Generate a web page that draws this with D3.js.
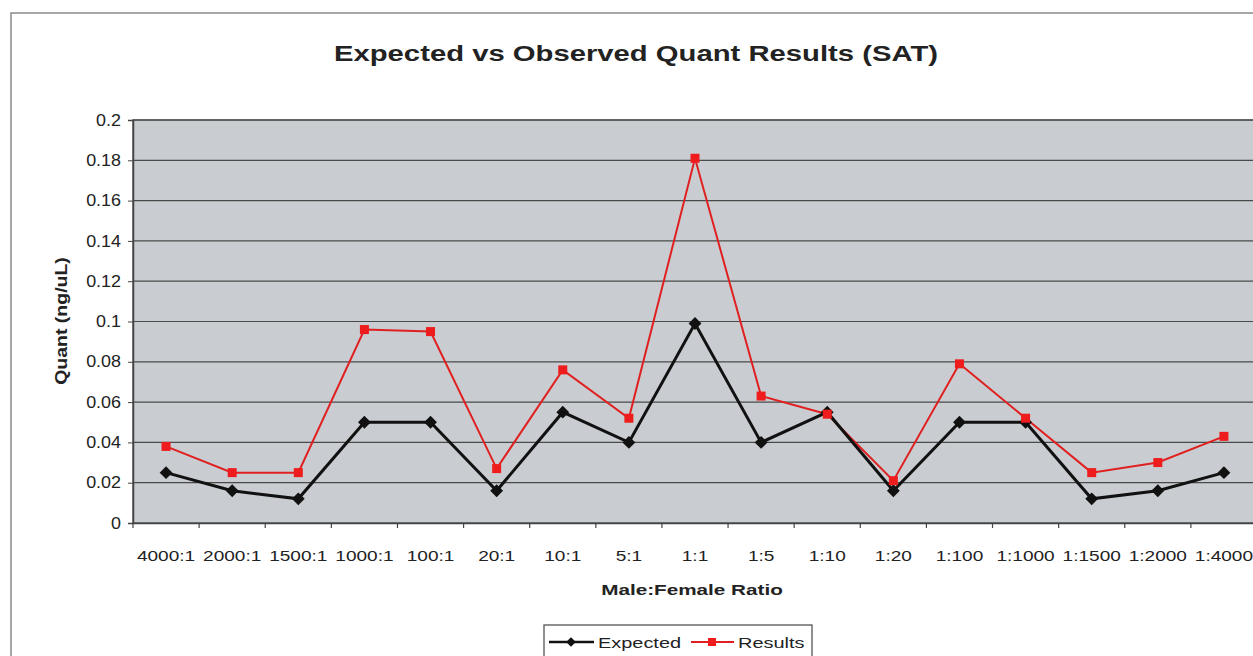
<!DOCTYPE html>
<html>
<head>
<meta charset="utf-8">
<script src="https://cdn.jsdelivr.net/npm/d3@7"></script>
<style>
  html, body { margin: 0; padding: 0; background: #fff; }
  svg { display: block; font-family: Arial, "Liberation Sans", sans-serif; }
</style>
</head>
<body>
<svg id="chart" width="1253" height="656"></svg>
<script>
// Male:Female mixture ratios
const categories = ["4000:1", "2000:1", "1500:1", "1000:1", "100:1", "20:1", "10:1", "5:1", "1:1",
  "1:5", "1:10", "1:20", "1:100", "1:1000", "1:1500", "1:2000", "1:4000"];

// Expected quantity (ng/uL)
const expected = [0.025, 0.016, 0.012, 0.050, 0.050, 0.016, 0.055, 0.040, 0.099,
  0.040, 0.055, 0.016, 0.050, 0.050, 0.012, 0.016, 0.025];

// Observed quantity (ng/uL)
const results = [0.038, 0.025, 0.025, 0.096, 0.095, 0.027, 0.076, 0.052, 0.181,
  0.063, 0.054, 0.021, 0.079, 0.052, 0.025, 0.030, 0.043];

const yTicks = [0, 0.02, 0.04, 0.06, 0.08, 0.1, 0.12, 0.14, 0.16, 0.18, 0.2];

const svg = d3.select("#chart");
const FONT = "Arial, 'Liberation Sans', sans-serif";
const SX = 1.33; // wide text proportions

// outer chart frame
svg.append("rect").attr("x", 11).attr("y", 13).attr("width", 1260).attr("height", 660)
  .attr("fill", "#fff").attr("stroke", "#8a8a8a").attr("stroke-width", 1.5);

const plot = { left: 133, top: 120, width: 1124, height: 403 };

const x = d3.scaleBand().domain(categories).range([plot.left, plot.left + plot.width]);
const y = d3.scaleLinear().domain([0, 0.2]).range([plot.top + plot.height, plot.top]);

// plot area
svg.append("rect").attr("x", plot.left).attr("y", plot.top)
  .attr("width", plot.width).attr("height", plot.height)
  .attr("fill", "#c9cdd1").attr("stroke", "#555").attr("stroke-width", 1.5);

// horizontal gridlines
svg.append("g").selectAll("line").data(yTicks.slice(1)).join("line")
  .attr("x1", plot.left).attr("x2", plot.left + plot.width)
  .attr("y1", d => y(d)).attr("y2", d => y(d))
  .attr("stroke", "#4a4a4a").attr("stroke-width", 1.2);

// y axis
const yAxis = svg.append("g").attr("transform", `translate(${plot.left},0)`)
  .call(d3.axisLeft(y).tickValues(yTicks).tickSize(5).tickPadding(6)
    .tickFormat(d => d === 0 ? "0" : String(+d.toFixed(2))));
yAxis.select(".domain").attr("stroke", "#444").attr("stroke-width", 1.5);
yAxis.selectAll(".tick line").attr("stroke", "#444");
yAxis.selectAll(".tick text").attr("font-size", 16).attr("fill", "#222")
  .attr("font-family", FONT)
  .attr("x", -12 / 1.12).attr("transform", "scale(1.12,1)");

// x axis
const xAxis = svg.append("g").attr("transform", `translate(0,${plot.top + plot.height})`)
  .call(d3.axisBottom(x).tickSize(0).tickPadding(28));
xAxis.select(".domain").attr("stroke", "#444").attr("stroke-width", 1.5);
xAxis.selectAll(".tick text").attr("font-size", 14).attr("fill", "#222")
  .attr("font-family", FONT).attr("transform", `scale(${1.36},1)`);
// tick marks at category boundaries
svg.append("g").selectAll("line").data(categories).join("line")
  .attr("x1", d => x(d)).attr("x2", d => x(d))
  .attr("y1", plot.top + plot.height).attr("y2", plot.top + plot.height + 5)
  .attr("stroke", "#444").attr("stroke-width", 1.2);

function label(px, py, txt, size, bold, sx, anchor) {
  return svg.append("text")
    .attr("transform", `translate(${px},${py}) scale(${sx},1)`)
    .attr("text-anchor", anchor || "middle")
    .attr("font-size", size).attr("font-weight", bold ? "bold" : null)
    .attr("fill", "#222").text(txt);
}

// title
label(636, 61, "Expected vs Observed Quant Results (SAT)", 22, true, SX);

// axis titles
label(692, 595, "Male:Female Ratio", 15, true, 1.38);
svg.append("text").attr("transform", "translate(67,321) rotate(-90) scale(1.3,1.15)")
  .attr("text-anchor", "middle")
  .attr("font-size", 15).attr("font-weight", "bold").attr("fill", "#222")
  .text("Quant (ng/uL)");

const cx = d => x(d) + x.bandwidth() / 2;

// series lines
const line = vals => d3.line().x((d, i) => cx(categories[i])).y(d => y(d))(vals);

svg.append("path").attr("d", line(results)).attr("fill", "none")
  .attr("stroke", "#e02020").attr("stroke-width", 2);
svg.append("path").attr("d", line(expected)).attr("fill", "none")
  .attr("stroke", "#111").attr("stroke-width", 3);

// markers
const diamond = d3.symbol().type(d3.symbolDiamond2).size(105);
svg.append("g").selectAll("path").data(expected).join("path")
  .attr("d", diamond)
  .attr("transform", (d, i) => `translate(${cx(categories[i])},${y(d)})`)
  .attr("fill", "#111");
svg.append("g").selectAll("rect").data(results).join("rect")
  .attr("x", (d, i) => cx(categories[i]) - 4.5).attr("y", d => y(d) - 4.5)
  .attr("width", 9).attr("height", 9).attr("fill", "#ee1c1c");

// legend
const lg = svg.append("g");
lg.append("rect").attr("x", 544).attr("y", 625).attr("width", 268).attr("height", 40)
  .attr("fill", "#fff").attr("stroke", "#555").attr("stroke-width", 1.3);
lg.append("line").attr("x1", 549).attr("x2", 594).attr("y1", 642).attr("y2", 642)
  .attr("stroke", "#111").attr("stroke-width", 2.5);
lg.append("path").attr("d", d3.symbol().type(d3.symbolDiamond2).size(60))
  .attr("transform", "translate(571,642)").attr("fill", "#111");
label(598, 648, "Expected", 15, false, 1.33, "start");
lg.append("line").attr("x1", 691).attr("x2", 734).attr("y1", 642).attr("y2", 642)
  .attr("stroke", "#e02020").attr("stroke-width", 2);
lg.append("rect").attr("x", 708).attr("y", 638).attr("width", 8).attr("height", 8).attr("fill", "#ee1c1c");
label(738, 648, "Results", 15, false, 1.33, "start");
</script>
</body>
</html>
